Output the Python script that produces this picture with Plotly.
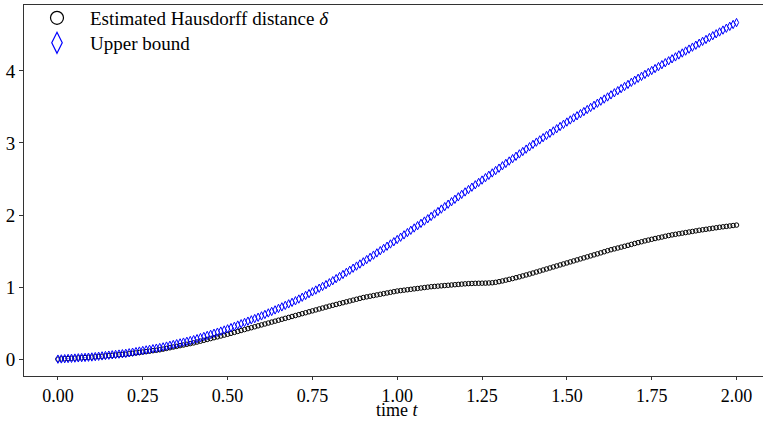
import plotly.graph_objects as go

# time samples t = 0.00 ... 2.00 (step 0.01)
t = [round(i * 0.01, 2) for i in range(201)]

# Estimated Hausdorff distance (black circles)
hausdorff = [
    0.000, 0.003, 0.006, 0.008, 0.011, 0.014, 0.017, 0.019, 0.022, 0.025, 0.028,
    0.032, 0.036, 0.040, 0.044, 0.048, 0.052, 0.056, 0.060, 0.064, 0.068,
    0.074, 0.080, 0.086, 0.092, 0.098, 0.104, 0.110, 0.117, 0.123, 0.130,
    0.139, 0.149, 0.158, 0.168, 0.177, 0.187, 0.196, 0.206, 0.215, 0.225,
    0.237, 0.249, 0.261, 0.273, 0.285, 0.297, 0.309, 0.321, 0.333, 0.345,
    0.358, 0.371, 0.384, 0.397, 0.410, 0.423, 0.436, 0.449, 0.462, 0.475,
    0.488, 0.501, 0.514, 0.527, 0.540, 0.553, 0.566, 0.579, 0.592, 0.605,
    0.618, 0.631, 0.644, 0.657, 0.670, 0.683, 0.696, 0.709, 0.722, 0.735,
    0.747, 0.759, 0.771, 0.783, 0.795, 0.807, 0.819, 0.831, 0.843, 0.855,
    0.864, 0.873, 0.882, 0.891, 0.900, 0.909, 0.918, 0.927, 0.936, 0.945,
    0.951, 0.957, 0.963, 0.969, 0.975, 0.981, 0.987, 0.993, 0.999, 1.005,
    1.009, 1.013, 1.017, 1.021, 1.025, 1.029, 1.033, 1.037, 1.041, 1.045,
    1.048, 1.050, 1.052, 1.053, 1.054, 1.055, 1.057, 1.060, 1.066, 1.075,
    1.085, 1.096, 1.107, 1.118, 1.130, 1.142, 1.155, 1.168, 1.181, 1.195,
    1.209, 1.223, 1.237, 1.251, 1.265, 1.279, 1.293, 1.307, 1.321, 1.335,
    1.349, 1.363, 1.377, 1.391, 1.405, 1.419, 1.433, 1.447, 1.461, 1.475,
    1.490, 1.505, 1.518, 1.530, 1.542, 1.554, 1.566, 1.579, 1.592, 1.605,
    1.617, 1.629, 1.641, 1.652, 1.663, 1.674, 1.684, 1.694, 1.705, 1.715,
    1.724, 1.732, 1.740, 1.748, 1.756, 1.764, 1.772, 1.780, 1.788, 1.795,
    1.802, 1.809, 1.816, 1.823, 1.830, 1.836, 1.842, 1.848, 1.854, 1.860,
]

# Upper bound (blue diamonds)
upper = [
    0.000, 0.003, 0.006, 0.009, 0.012, 0.015, 0.018, 0.021, 0.024, 0.027, 0.030,
    0.035, 0.040, 0.045, 0.050, 0.055, 0.060, 0.065, 0.070, 0.075, 0.080,
    0.088, 0.096, 0.104, 0.112, 0.120, 0.128, 0.136, 0.144, 0.152, 0.160,
    0.170, 0.181, 0.192, 0.203, 0.214, 0.225, 0.236, 0.247, 0.258, 0.270,
    0.284, 0.299, 0.314, 0.329, 0.344, 0.359, 0.374, 0.389, 0.404, 0.420,
    0.437, 0.455, 0.473, 0.491, 0.509, 0.527, 0.545, 0.563, 0.581, 0.600,
    0.620, 0.641, 0.662, 0.683, 0.704, 0.725, 0.746, 0.767, 0.788, 0.810,
    0.834, 0.859, 0.884, 0.909, 0.934, 0.959, 0.984, 1.009, 1.034, 1.060,
    1.088, 1.117, 1.146, 1.175, 1.204, 1.233, 1.262, 1.291, 1.320, 1.350,
    1.381, 1.412, 1.443, 1.474, 1.505, 1.536, 1.567, 1.598, 1.629, 1.660,
    1.692, 1.724, 1.756, 1.788, 1.820, 1.852, 1.884, 1.916, 1.948, 1.980,
    2.014, 2.048, 2.082, 2.116, 2.150, 2.184, 2.218, 2.252, 2.286, 2.320,
    2.353, 2.386, 2.419, 2.452, 2.485, 2.518, 2.551, 2.584, 2.617, 2.650,
    2.683, 2.716, 2.749, 2.782, 2.815, 2.848, 2.881, 2.914, 2.947, 2.980,
    3.011, 3.042, 3.073, 3.104, 3.135, 3.166, 3.197, 3.228, 3.259, 3.290,
    3.319, 3.348, 3.377, 3.406, 3.435, 3.464, 3.493, 3.522, 3.551, 3.580,
    3.609, 3.638, 3.667, 3.696, 3.725, 3.754, 3.783, 3.812, 3.841, 3.870,
    3.897, 3.924, 3.951, 3.978, 4.005, 4.032, 4.059, 4.086, 4.113, 4.140,
    4.167, 4.194, 4.221, 4.248, 4.275, 4.302, 4.329, 4.356, 4.383, 4.410,
    4.436, 4.462, 4.488, 4.514, 4.540, 4.566, 4.592, 4.618, 4.644, 4.670,
]

x_ticks = [0.0, 0.25, 0.5, 0.75, 1.0, 1.25, 1.5, 1.75, 2.0]
x_tick_labels = ["0.00", "0.25", "0.50", "0.75", "1.00", "1.25", "1.50", "1.75", "2.00"]
y_ticks = [0, 1, 2, 3, 4]
x_title = "time <i>t</i>"

FONT = "Liberation Serif"
FS = 19

fig = go.Figure()

fig.add_trace(go.Scatter(
    x=t, y=hausdorff, mode="markers", showlegend=False,
    marker=dict(symbol="circle-open", size=4.5, color="black", line=dict(width=1, color="black")),
))
fig.add_trace(go.Scatter(
    x=t, y=upper, mode="markers", showlegend=False,
    marker=dict(symbol="diamond-tall-open", size=6, color="#0000ff", line=dict(width=1, color="#0000ff")),
))

# legend entries with larger symbols (one legend per row for exact spacing)
fig.add_trace(go.Scatter(
    x=[None], y=[None], mode="markers", name="Estimated Hausdorff distance <i>δ</i>",
    legend="legend",
    marker=dict(symbol="circle-open", size=13, color="black", line=dict(width=1.2, color="black")),
))
fig.add_trace(go.Scatter(
    x=[None], y=[None], mode="markers", name="Upper bound",
    legend="legend2",
    marker=dict(symbol="diamond-tall-open", size=15, color="#0000ff", line=dict(width=1.2, color="#0000ff")),
))

leg_common = dict(
    xanchor="left", yanchor="middle",
    bgcolor="rgba(0,0,0,0)", borderwidth=0,
    font=dict(family=FONT, size=FS, color="black"),
    itemwidth=56,
)

fig.update_layout(
    width=763, height=421,
    margin=dict(l=24, r=0, t=5, b=45, autoexpand=False),
    paper_bgcolor="white", plot_bgcolor="white",
    font=dict(family=FONT, size=FS, color="black"),
    showlegend=True,
    legend=dict(x=0.0, y=(376 - 18) / 371, **leg_common),
    legend2=dict(x=0.0, y=(376 - 43) / 371, **leg_common),
    xaxis=dict(
        range=[-0.1, 2.078], showgrid=False, zeroline=False, automargin=False,
        showline=True, linecolor="#333", linewidth=1, mirror=True,
        ticks="outside", ticklen=3, tickcolor="#333", tickwidth=1,
        tickvals=x_ticks, ticktext=x_tick_labels,
        tickfont=dict(family=FONT, size=18, color="black"),
    ),
    yaxis=dict(
        range=[-0.234, 4.914], showgrid=False, zeroline=False, automargin=False,
        showline=True, linecolor="#333", linewidth=1, mirror=False,
        ticks="outside", ticklen=4, tickcolor="#333", tickwidth=1,
        tickvals=y_ticks, ticktext=[str(v) for v in y_ticks],
        tickfont=dict(family=FONT, size=FS, color="black"),
    ),
    annotations=[dict(
        text=x_title, x=1.0, xref="x", y=-45 / 371, yref="paper",
        xanchor="center", yanchor="bottom", showarrow=False, borderpad=0,
        font=dict(family=FONT, size=18, color="black"),
    )],
)

fig.write_html("out.html")
